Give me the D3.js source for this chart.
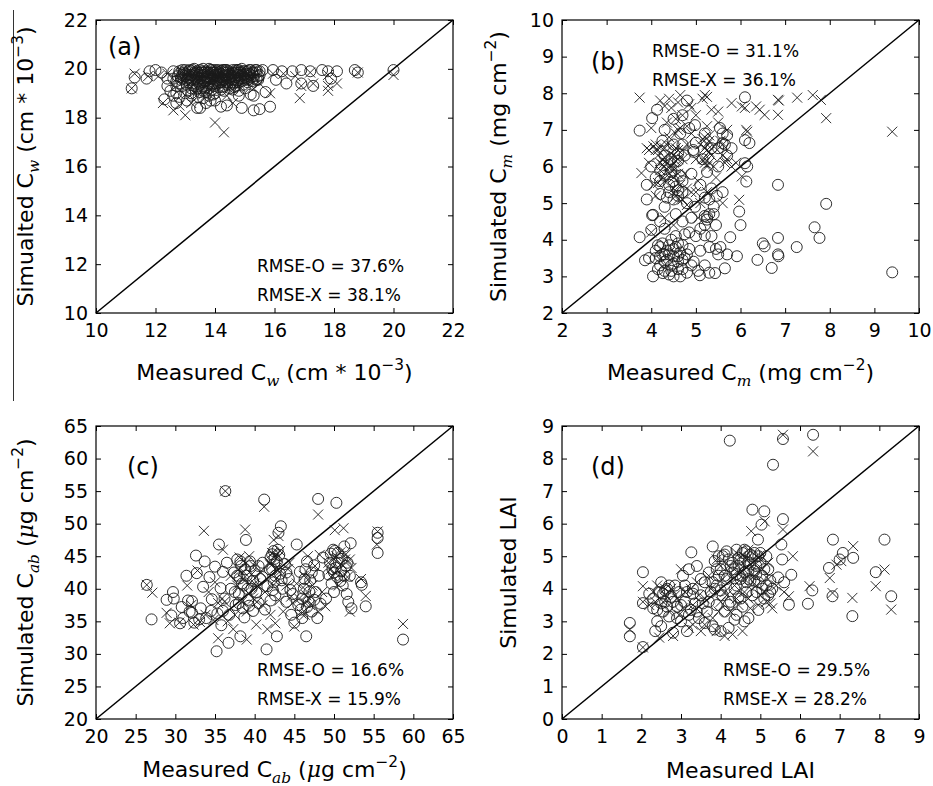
<!DOCTYPE html>
<html lang="en">
<head>
<meta charset="UTF-8">
<title>Measured vs simulated</title>
<script src="https://d3js.org/d3.v7.min.js"></script>
<style>
    body { margin: 0; background: #fff; }
    svg { font-family: "DejaVu Sans", sans-serif; }
    .mark { fill: none; stroke: #1a1a1a; stroke-width: 0.9px; }
</style>
</head>
<body>
<svg id="chart" width="933" height="786"></svg>
<script>
// ---- data ----
const aTicks = [10, 12, 14, 16, 18, 20, 22];
const bTicks = [2, 3, 4, 5, 6, 7, 8, 9, 10];
const cTicks = [20, 25, 30, 35, 40, 45, 50, 55, 60, 65];
const dTicks = [0, 1, 2, 3, 4, 5, 6, 7, 8, 9];

const aO = [[11.2,19.2],[11.3,19.65],[11.7,19.6],[11.8,19.9],[12.0,19.95],[12.2,19.85],[12.3,18.75],[12.4,19.3],[12.4,19.6],[12.5,19.1],[12.6,19.9],[12.6,18.9],[12.7,19.5],[12.7,19.0],[12.8,18.85],[12.8,19.8],[12.9,19.95],[12.9,19.3],[13.0,19.7],[13.0,19.0],[13.1,19.9],[13.1,19.45],[13.2,18.9],[13.2,19.75],[13.3,20.0],[13.3,19.55],[13.4,18.4],[13.4,19.2],[13.4,19.85],[13.5,19.6],[13.5,18.4],[13.5,19.95],[13.6,19.3],[13.6,19.75],[13.6,18.8],[13.7,19.9],[13.7,19.5],[13.7,19.05],[13.8,19.7],[13.8,18.9],[13.8,20.0],[13.9,19.35],[13.9,19.85],[14.0,19.6],[14.0,19.0],[14.0,19.95],[14.1,19.25],[14.1,19.75],[14.2,18.45],[14.2,19.9],[14.2,19.45],[14.3,19.1],[14.3,19.7],[14.4,19.95],[14.4,19.35],[14.4,18.5],[14.5,19.8],[14.5,19.55],[14.6,19.15],[14.6,19.95],[14.7,19.65],[14.7,19.3],[14.8,19.85],[14.8,18.9],[14.9,19.5],[14.9,20.0],[14.9,18.4],[15.0,19.75],[15.0,19.2],[15.1,19.9],[15.1,19.45],[15.2,19.65],[15.2,18.95],[15.3,18.9],[15.3,19.85],[15.3,18.3],[15.4,19.55],[15.5,18.35],[15.5,19.75],[15.6,19.95],[15.7,19.05],[15.85,18.45],[15.95,19.95],[16.05,19.55],[16.25,19.9],[16.4,19.4],[16.6,19.9],[16.9,19.95],[16.9,19.4],[17.2,19.9],[17.3,19.3],[17.6,19.95],[17.8,19.9],[17.9,19.6],[18.1,19.9],[18.7,19.95],[18.8,19.85],[20.0,19.95],[12.9,19.6],[13.2,19.2],[13.4,19.5],[13.6,20.0],[13.9,19.6],[14.1,19.95],[14.3,19.85],[14.6,19.4],[14.8,19.6],[15.0,19.9],[13.5,19.05],[13.8,19.2],[14.4,19.6],[14.0,19.4],[13.1,19.1],[12.8,19.4],[13.06,18.7],[12.7,18.6],[14.0,18.7],[13.7,18.6],
    [12.75,19.7],[12.85,19.55],[12.95,19.85],[13.05,19.35],[13.15,19.65],[13.25,19.95],[13.35,19.8],[13.45,19.4],[13.55,19.7],[13.65,19.5],[13.75,19.85],[13.85,19.95],[13.95,19.7],[14.05,19.5],[14.15,19.85],[14.25,19.6],[14.35,19.95],[14.45,19.75],[14.55,19.45],[14.65,19.8],[14.75,19.95],[14.85,19.7],[14.95,19.35],[15.05,19.6],[15.15,19.8],[15.25,19.5],[15.35,19.95],[15.45,19.7],[12.9,19.75],[13.0,19.95],[13.2,19.55],[13.4,19.9],[13.6,19.6],[13.8,19.85],[14.0,19.75],[14.2,19.65],[14.4,19.85],[14.6,19.7],[14.8,19.95],[15.0,19.55],[15.2,19.95],[15.4,19.85],[13.3,19.3],[13.5,19.35],[13.7,19.25],[13.9,19.15],[14.1,19.4],[14.3,19.3],[14.5,19.2],[14.7,19.45],[13.1,19.6],[13.3,19.7],[13.5,19.85],[13.7,19.65],[13.9,19.95],[14.1,19.55],[14.3,19.95],[14.5,19.65],[14.7,19.85],[14.9,19.75],[15.1,19.7],[13.2,19.0],[13.6,19.1],[14.2,19.15],[14.8,19.1],[12.6,19.6],[12.7,19.3],[15.3,19.6],[15.5,19.9],[13.95,18.95],[13.45,18.85],[13.85,18.7],
    [12.8,19.9],[12.85,19.65],[13.0,19.8],[13.05,19.55],[13.15,19.95],[13.25,19.4],[13.3,19.85],[13.35,19.6],[13.45,19.75],[13.55,19.9],[13.6,19.45],[13.65,19.85],[13.75,19.7],[13.8,19.4],[13.85,19.6],[13.95,19.85],[14.0,19.3],[14.05,19.9],[14.1,19.65],[14.15,19.45],[14.2,19.8],[14.25,19.95],[14.3,19.55],[14.35,19.75],[14.4,19.45],[14.45,19.9],[14.5,19.35],[14.55,19.7],[14.6,19.85],[14.65,19.55],[14.7,19.95],[14.75,19.75],[14.8,19.45],[14.85,19.85],[14.9,19.6],[14.95,19.9],[15.0,19.65],[15.05,19.8],[15.1,19.55],[15.15,19.95],[15.2,19.75],[15.25,19.85],[15.3,19.7],[15.4,19.95],[15.45,19.55],[13.1,19.75],[13.2,19.9],[13.4,19.65],[13.6,19.85],[13.8,19.6],[14.0,19.85],[14.2,19.55],[14.4,19.7],[14.6,19.55],[14.8,19.75],[13.35,19.15],[13.55,19.2],[13.75,19.4],[14.25,19.25],[14.65,19.25]];
const aX = [[11.2,19.2],[11.3,19.8],[11.75,19.7],[12.25,18.6],[12.6,18.3],[13.0,18.1],[12.8,18.5],[12.4,19.8],[13.2,18.6],[14.0,17.8],[14.3,17.4],[13.5,19.8],[13.8,19.5],[14.1,19.7],[14.5,19.9],[14.8,19.3],[13.3,19.4],[15.2,19.6],[13.6,18.95],[14.4,18.9],[15.85,19.0],[15.95,19.8],[16.3,19.8],[16.85,18.8],[16.9,19.3],[17.3,19.4],[17.8,19.1],[17.8,19.3],[17.8,19.75],[18.1,19.4],[18.8,19.85],[20.0,19.75],[12.9,19.9],[14.6,18.6],[15.5,19.4],[16.7,19.7],[17.2,19.85],[12.1,19.7],[13.1,19.85],[14.9,19.95],[15.3,19.2],[13.0,19.6],[13.4,19.7],[13.9,19.9],[14.2,19.6],[14.7,19.8],[15.0,19.5],[13.7,19.3],[14.4,19.4]];

const bO = [[3.74,6.98],[3.74,4.07],[3.86,3.44],[3.95,3.5],[4.0,4.27],[4.02,4.67],[4.04,3.0],[4.04,4.68],[4.1,3.7],[4.13,7.55],[4.02,7.32],[4.15,3.2],[4.2,3.55],[4.2,4.5],[4.25,3.9],[4.26,3.09],[4.3,3.4],[4.3,4.3],[4.35,3.7],[4.4,3.05],[4.4,3.6],[4.45,4.0],[4.5,3.0],[4.5,3.35],[4.5,3.75],[4.55,4.1],[4.6,3.2],[4.6,3.55],[4.65,3.0],[4.7,3.45],[4.7,3.85],[4.75,4.15],[4.8,3.6],[4.9,3.3],[4.95,3.4],[5.0,4.1],[5.05,3.15],[5.09,3.03],[5.1,3.7],[5.2,3.3],[5.2,4.12],[5.25,4.62],[5.3,3.1],[5.3,3.8],[5.35,4.1],[5.43,3.09],[5.45,3.75],[5.5,3.6],[5.55,3.8],[5.65,3.22],[5.7,3.6],[5.77,4.07],[5.92,3.55],[6.0,4.4],[5.97,4.77],[3.9,5.1],[4.1,5.7],[4.2,5.9],[4.2,5.25],[4.3,4.9],[4.3,6.3],[4.4,5.5],[4.45,5.85],[4.5,6.6],[4.5,5.1],[4.55,4.7],[4.6,6.15],[4.6,5.35],[4.65,6.9],[4.7,5.6],[4.7,4.5],[4.75,6.3],[4.8,5.0],[4.85,7.05],[4.9,5.8],[4.95,6.4],[4.98,4.9],[5.0,6.65],[5.1,5.5],[5.15,6.2],[5.2,4.4],[5.2,6.9],[5.25,5.85],[5.3,4.7],[5.35,6.5],[5.4,4.9],[5.47,5.2],[5.5,6.0],[5.54,7.05],[5.6,5.3],[5.6,6.64],[5.7,6.86],[5.7,6.3],[5.8,6.5],[6.1,6.09],[6.13,5.59],[6.2,6.64],[6.1,7.89],[6.1,6.72],[4.5,7.3],[4.3,7.0],[4.7,7.4],[4.8,7.8],[4.25,6.7],[4.0,6.0],[3.9,5.5],[4.94,6.45],[4.98,7.13],[6.84,5.5],[6.84,4.05],[6.84,3.6],[6.7,3.23],[6.5,3.9],[6.54,3.82],[6.38,3.45],[7.26,3.8],[7.66,4.34],[7.77,4.05],[7.92,4.98],[9.4,3.11],[6.85,3.55],
    [4.1,3.5],[4.15,3.85],[4.2,3.3],[4.25,3.6],[4.3,3.15],[4.35,3.45],[4.4,3.85],[4.45,3.3],[4.5,3.55],[4.55,3.8],[4.6,3.4],[4.65,3.65],[4.7,3.2],[4.75,3.5],[4.8,3.1],[4.85,3.75],[4.3,3.6],[4.2,3.8],[4.45,3.15],[4.6,3.9],[4.4,5.3],[4.5,5.6],[4.6,5.2],[4.65,5.75],[4.55,5.45],[4.7,5.3],[4.35,5.15],[4.2,5.6],[4.3,5.75],[4.45,6.2],[4.6,6.35],[4.7,6.6],[5.2,4.65],[5.25,4.55],[5.3,5.1],[5.4,4.7],[5.45,4.4],[5.35,5.4],[5.2,5.15],[5.1,4.3],[4.9,4.6],[4.85,4.2],[5.6,6.9],[5.5,6.5],[5.65,6.6],[6.15,6.0]];
const bX = [[3.74,7.88],[3.78,5.82],[3.9,6.5],[3.95,6.1],[4.0,7.05],[4.05,5.5],[4.1,6.6],[4.1,5.2],[4.15,6.3],[4.2,7.8],[4.2,5.9],[4.25,6.05],[4.3,6.5],[4.3,5.6],[4.35,7.2],[4.35,6.1],[4.4,5.8],[4.4,6.8],[4.45,6.0],[4.45,7.6],[4.5,6.3],[4.5,5.4],[4.55,6.9],[4.55,5.95],[4.6,7.0],[4.6,6.45],[4.6,5.1],[4.65,7.95],[4.65,5.5],[4.7,6.2],[4.7,7.4],[4.75,5.8],[4.8,6.6],[4.85,7.7],[4.9,5.3],[4.9,6.9],[5.0,7.4],[5.0,6.2],[5.05,5.6],[5.1,6.6],[5.15,7.85],[5.2,7.95],[5.2,6.1],[5.2,6.8],[5.25,5.3],[5.25,7.1],[5.3,6.4],[5.3,6.85],[5.35,7.55],[5.4,6.0],[5.45,5.7],[5.5,7.2],[5.55,6.7],[5.6,6.3],[5.65,6.1],[5.7,7.0],[5.8,7.73],[5.9,6.1],[5.97,5.09],[6.03,5.73],[6.03,7.64],[6.1,7.6],[6.13,7.0],[6.15,6.95],[6.35,7.64],[6.43,7.55],[6.54,7.41],[6.84,7.82],[6.84,7.41],[6.86,7.8],[7.27,7.88],[7.62,7.95],[7.8,7.82],[7.92,7.32],[9.4,6.95],[4.3,4.6],[4.5,4.4],[4.0,4.2],[5.6,5.0],[4.8,4.95],[5.05,4.6],[4.15,6.45],[4.25,6.2],[4.55,6.15],[4.45,6.55],[5.15,6.2],[5.25,6.6],[4.8,7.1],
    [4.1,6.45],[4.2,6.1],[4.3,6.0],[4.35,6.6],[4.4,6.3],[4.45,5.9],[4.5,6.1],[4.55,6.5],[4.6,5.8],[4.25,5.7],[4.15,5.55],[4.4,6.0],[4.5,5.7],[4.6,6.2],[4.7,6.45],[4.3,6.25],[4.2,6.55],[4.05,6.55],[3.95,6.45],[4.65,7.05],[4.55,7.3],[5.2,6.2],[5.25,6.45],[5.3,6.7],[5.3,6.1],[5.35,6.3],[5.2,6.5],[5.4,6.55],[5.25,6.0],[5.15,6.75],[4.9,7.6],[5.5,7.5],[4.4,7.85],[4.3,7.65],[4.6,7.75],[5.25,7.9],[5.6,6.6],[5.7,6.2],[5.8,6.0],[4.7,5.1],[4.8,5.4],[4.55,5.2],[5.0,5.3],[5.1,5.0]];

const cO = [[26.4,40.6],[27.0,35.3],[28.9,38.3],[29.5,35.9],[29.7,39.5],[30.6,34.7],[30.8,37.2],[31.4,42.0],[31.6,38.2],[31.8,36.5],[32.1,38.1],[32.1,36.3],[32.4,34.8],[32.6,45.1],[32.7,42.4],[33.2,37.0],[33.5,40.3],[33.7,44.2],[33.9,35.5],[34.3,41.8],[34.6,38.4],[35.0,43.4],[35.2,30.4],[35.3,36.2],[35.5,46.8],[35.7,40.1],[35.8,34.4],[36.0,42.6],[36.2,38.5],[36.3,55.0],[36.5,44.0],[36.7,31.7],[36.8,36.0],[37.0,40.0],[37.4,42.5],[37.6,37.5],[37.8,44.5],[38.0,39.2],[38.1,41.6],[38.2,32.7],[38.3,43.5],[38.5,37.0],[38.6,40.5],[38.7,35.6],[38.9,47.5],[39.0,42.0],[39.2,38.3],[39.4,44.2],[39.6,40.0],[39.8,36.6],[40.0,42.8],[40.2,39.5],[40.5,37.8],[40.7,41.5],[41.0,44.0],[41.2,53.7],[41.3,36.8],[41.5,30.7],[41.6,40.4],[41.9,43.0],[42.0,38.2],[42.2,45.3],[42.4,41.0],[42.5,44.6],[42.6,39.0],[42.8,32.7],[42.9,46.0],[43.0,48.6],[43.2,42.3],[43.3,49.6],[43.5,40.0],[43.8,43.8],[44.0,38.0],[44.3,41.5],[44.6,36.0],[44.8,39.2],[45.0,34.8],[45.3,46.8],[45.5,37.5],[45.7,42.6],[46.0,35.5],[46.2,40.0],[46.5,32.7],[46.6,44.2],[46.8,38.0],[47.0,41.3],[47.2,36.5],[47.5,43.6],[47.7,39.5],[47.9,35.5],[48.0,53.8],[48.1,42.0],[48.3,37.7],[48.6,44.8],[49.0,38.5],[49.3,42.2],[49.6,45.4],[49.8,43.0],[50.0,39.5],[50.1,45.8],[50.3,53.2],[50.4,41.8],[50.6,44.0],[50.9,42.7],[51.1,40.5],[51.3,46.5],[51.5,43.5],[51.6,39.2],[51.8,38.0],[52.0,42.0],[52.1,47.0],[52.2,37.0],[53.4,41.0],[53.5,40.6],[54.0,37.3],[55.5,48.6],[55.5,47.8],[55.5,45.5],[58.7,32.2],
    [37.8,42.0],[38.2,44.2],[38.4,40.8],[38.8,43.0],[39.1,40.0],[39.3,37.4],[39.5,43.5],[39.8,41.2],[38.0,37.8],[37.5,39.5],[42.0,44.8],[42.2,43.0],[42.4,45.8],[42.6,42.0],[42.8,44.2],[43.1,45.2],[43.4,41.3],[42.3,39.8],[46.0,38.5],[46.3,41.5],[46.6,37.2],[46.9,39.5],[47.2,42.5],[47.5,38.3],[46.4,43.0],[45.8,36.8],[49.5,44.0],[49.9,46.0],[50.2,43.2],[50.5,45.5],[50.8,41.2],[51.0,44.6],[51.3,42.0],[51.7,44.0],[50.0,42.5],[49.7,40.8],[44.0,42.5],[44.5,39.8],[40.5,43.5],[41.0,41.8],[36.0,36.6],[34.5,36.6],[33.0,35.3],[31.0,35.5],[29.8,38.5]];
const cX = [[26.4,40.6],[27.1,39.4],[28.9,36.3],[29.3,34.7],[30.5,34.8],[31.5,40.5],[32.0,37.5],[32.3,34.5],[32.8,42.8],[33.6,48.9],[33.8,36.0],[34.2,39.5],[35.0,41.0],[35.4,37.8],[35.4,32.4],[35.9,38.5],[36.3,55.0],[36.0,46.0],[36.6,35.0],[37.0,42.0],[37.3,33.8],[37.8,40.5],[38.1,44.8],[38.4,38.0],[38.6,42.6],[38.8,49.1],[39.0,32.2],[39.0,36.5],[39.3,45.0],[39.5,41.0],[39.8,38.5],[40.0,43.5],[40.2,34.5],[40.5,40.2],[40.8,42.5],[41.0,37.5],[41.2,52.6],[41.3,39.5],[41.6,33.8],[41.9,44.0],[42.0,36.0],[42.2,45.5],[42.4,47.5],[42.6,34.7],[42.7,41.5],[42.9,44.8],[43.0,48.1],[43.1,38.2],[43.3,42.8],[43.6,36.5],[44.0,40.5],[44.4,44.0],[44.8,37.8],[45.0,34.2],[45.3,40.8],[45.6,38.5],[45.9,36.2],[46.2,42.0],[46.5,39.0],[46.7,45.0],[47.0,37.5],[47.3,40.5],[47.6,43.5],[48.0,51.4],[48.0,36.5],[48.2,45.2],[48.5,39.5],[48.9,37.3],[49.3,44.0],[49.8,42.0],[50.1,49.0],[50.3,45.0],[50.6,40.5],[50.9,43.8],[51.2,49.3],[51.4,44.5],[51.7,41.8],[52.0,36.5],[52.2,43.2],[53.4,41.5],[54.0,38.9],[55.4,46.8],[55.5,48.8],[58.7,34.6],
    [38.0,43.0],[38.5,41.5],[38.9,44.0],[39.2,39.3],[39.6,42.2],[40.0,40.8],[40.3,38.0],[42.1,43.6],[42.5,45.0],[42.7,43.2],[43.2,45.8],[42.3,40.5],[46.1,40.2],[46.4,37.8],[46.8,41.5],[47.1,38.8],[46.3,36.0],[49.6,43.0],[50.0,44.6],[50.4,42.8],[50.8,45.6],[51.1,42.0],[51.5,45.3],[52.0,44.5],[37.5,36.0],[36.2,38.0],[34.8,35.2],[33.1,34.9],[44.2,43.0],[44.6,38.8]];

const dO = [[1.71,2.95],[1.71,2.54],[2.04,2.21],[2.04,4.51],[2.04,3.56],[2.2,3.85],[2.3,3.4],[2.35,2.7],[2.4,3.0],[2.45,3.9],[2.5,2.85],[2.5,4.2],[2.55,3.3],[2.6,3.6],[2.65,4.0],[2.7,3.15],[2.75,3.75],[2.8,2.65],[2.85,4.1],[2.9,3.45],[2.95,3.9],[3.0,3.0],[3.05,4.4],[3.1,3.6],[3.15,2.7],[3.2,4.6],[3.25,3.35],[3.26,5.12],[3.3,4.0],[3.35,3.55],[3.4,4.7],[3.45,3.1],[3.5,3.8],[3.6,4.2],[3.65,3.3],[3.7,4.5],[3.75,3.9],[3.8,5.3],[3.8,2.85],[3.85,4.85],[3.9,3.5],[3.9,4.1],[3.95,5.0],[4.0,2.7],[4.0,4.6],[4.05,3.8],[4.1,5.05],[4.1,3.3],[4.15,4.3],[4.2,2.8],[4.2,4.9],[4.25,3.6],[4.3,4.5],[4.35,4.0],[4.4,5.2],[4.4,3.2],[4.45,4.7],[4.5,3.7],[4.5,4.3],[4.55,5.1],[4.6,3.0],[4.6,4.5],[4.65,3.9],[4.7,4.8],[4.7,3.1],[4.75,4.25],[4.8,6.43],[4.8,5.0],[4.85,4.55],[4.9,3.9],[4.94,5.51],[4.95,4.2],[5.0,4.8],[5.03,5.97],[5.05,4.4],[5.1,6.38],[5.1,3.7],[5.15,4.1],[5.2,4.6],[5.25,3.9],[5.3,4.0],[5.32,7.81],[5.45,4.35],[5.53,5.36],[5.57,6.14],[5.55,4.9],[5.6,4.2],[5.72,3.51],[5.78,4.43],[4.23,8.55],[5.57,8.6],[6.33,8.73],[6.2,3.54],[6.31,3.95],[6.83,5.51],[6.73,4.64],[6.82,3.77],[7.0,4.9],[7.08,5.1],[7.34,4.95],[7.32,3.16],[8.13,5.51],[7.91,4.51],[8.3,3.77],
    [2.3,3.7],[2.5,3.55],[2.6,3.95],[2.7,4.1],[2.8,3.6],[2.9,3.1],[3.0,3.5],[3.1,4.1],[3.2,3.2],[3.3,3.85],[3.4,3.3],[3.5,4.3],[3.6,2.95],[3.7,3.6],[3.8,4.2],[3.85,2.75],[3.9,4.6],[4.0,3.95],[4.05,5.0],[4.1,4.4],[4.2,3.5],[4.3,4.8],[4.35,3.05],[4.4,4.1],[4.5,4.9],[4.55,3.45],[4.6,5.2],[4.65,4.2],[4.7,4.55],[4.75,5.05],[4.8,3.8],[4.9,4.7],[5.0,5.1],[5.05,4.0],[5.1,4.6],[5.15,5.0],[5.2,3.8],[5.25,4.25],[4.95,3.35],[3.15,3.9],[2.4,3.35],[3.55,3.55],[4.15,5.15],[4.45,3.75],
    [4.35,4.6],[4.45,4.95],[4.55,4.4],[4.6,4.85],[4.65,5.15],[4.7,4.3],[4.75,4.75],[4.85,5.1],[4.85,4.25],[4.9,4.45],[4.95,5.0],[4.4,4.45],[4.25,4.7],[3.95,4.4],[3.85,4.0],[2.55,3.85],[2.65,3.45]];
const dX = [[1.71,2.75],[2.04,4.08],[2.04,3.6],[2.04,2.2],[2.2,3.5],[2.3,3.9],[2.4,4.1],[2.45,2.5],[2.55,3.6],[2.6,4.0],[2.7,3.3],[2.8,2.55],[2.85,3.8],[2.95,3.2],[3.0,4.6],[3.1,3.9],[3.2,2.8],[3.3,3.5],[3.4,4.2],[3.5,2.7],[3.6,3.7],[3.7,4.4],[3.8,3.1],[3.9,2.7],[3.9,4.9],[4.0,3.6],[4.05,4.3],[4.1,2.55],[4.15,3.8],[4.2,4.7],[4.25,3.3],[4.3,2.6],[4.35,4.1],[4.4,5.1],[4.45,3.5],[4.5,4.6],[4.55,2.7],[4.6,3.9],[4.65,4.9],[4.7,5.2],[4.75,3.4],[4.77,5.77],[4.85,4.4],[4.9,5.0],[5.0,3.8],[5.05,4.6],[5.11,6.07],[5.15,3.6],[5.2,4.3],[5.3,3.4],[5.4,4.1],[5.57,5.82],[5.57,8.73],[5.6,3.9],[5.72,3.77],[5.82,5.0],[6.24,4.08],[6.33,8.22],[6.75,4.33],[6.82,3.87],[6.92,4.74],[7.04,4.85],[7.34,5.31],[7.32,3.72],[7.91,4.08],[8.13,4.59],[8.3,3.36],
    [2.35,3.6],[2.6,3.8],[2.75,4.0],[2.9,3.7],[3.05,3.4],[3.25,4.0],[3.45,3.8],[3.55,3.2],[3.75,4.0],[3.95,3.3],[4.0,4.7],[4.1,3.9],[4.3,4.4],[4.4,3.7],[4.5,5.0],[4.6,4.3],[4.7,3.7],[4.8,4.7],[4.9,4.1],[5.0,4.9],[5.1,3.9],[5.2,4.8],[5.25,3.55],[4.95,3.5],[3.6,2.9],[3.3,2.9]];

const rmseA = ["RMSE-O = 37.6%", "RMSE-X = 38.1%"];
const rmseB = ["RMSE-O = 31.1%", "RMSE-X = 36.1%"];
const rmseC = ["RMSE-O = 16.6%", "RMSE-X = 15.9%"];
const rmseD = ["RMSE-O = 29.5%", "RMSE-X = 28.2%"];

// label pieces: [text, kind] kind = "" | "sub" | "sup" | "it"
const xLabA = [["Measured C",""],["w","sub"],[" (cm * 10",""],["\u22123","sup"],[")",""]];
const yLabA = [["Simualted C",""],["w","sub"],[" (cm * 10",""],["\u22123","sup"],[")",""]];
const xLabB = [["Measured C",""],["m","sub"],[" (mg cm",""],["\u22122","sup"],[")",""]];
const yLabB = [["Simulated C",""],["m","sub"],[" (mg cm",""],["\u22122","sup"],[")",""]];
const xLabC = [["Measured C",""],["ab","sub"],[" (",""],["\u03bc","it"],["g cm",""],["\u22122","sup"],[")",""]];
const yLabC = [["Simulated C",""],["ab","sub"],[" (",""],["\u03bc","it"],["g cm",""],["\u22122","sup"],[")",""]];
const xLabD = [["Measured LAI",""]];
const yLabD = [["Simulated LAI",""]];

// ---- layout ----
const W = 357, H = 293;
const panels = [
    {left: 96,  top: 20,  dom: [10, 22], ticks: aTicks, O: aO, X: aX, tag: "(a)", tagPos: [12, 35], rmse: rmseA, rmsePos: [161, 252], xl: xLabA, yl: yLabA, xlY: 360, ylX: -63},
    {left: 562, top: 20,  dom: [2, 10],  ticks: bTicks, O: bO, X: bX, tag: "(b)", tagPos: [29, 50], rmse: rmseB, rmsePos: [90, 37],   xl: xLabB, yl: yLabB, xlY: 360, ylX: -56},
    {left: 96,  top: 426, dom: [20, 65], ticks: cTicks, O: cO, X: cX, tag: "(c)", tagPos: [31, 49], rmse: rmseC, rmsePos: [161, 250], xl: xLabC, yl: yLabC, xlY: 351, ylX: -63},
    {left: 562, top: 426, dom: [0, 9],   ticks: dTicks, O: dO, X: dX, tag: "(d)", tagPos: [29, 49], rmse: rmseD, rmsePos: [161, 250], xl: xLabD, yl: yLabD, xlY: 352, ylX: -46}
];

const svg = d3.select("#chart");

// thin rule at the far left of the page
svg.append("line").attr("x1", 13.5).attr("x2", 13.5).attr("y1", 10).attr("y2", 401)
    .attr("stroke", "#333").attr("stroke-width", 1);

function richText(text, parts, size) {
    let shift = 0;
    parts.forEach(([t, kind]) => {
        const small = kind === "sub" || kind === "sup";
        const target = kind === "sub" ? size * 0.28 : kind === "sup" ? -size * 0.45 : 0;
        const ts = text.append("tspan")
            .attr("dy", target - shift)
            .attr("font-size", small ? size * 0.7 : size)
            .text(t);
        if (kind === "sub" || kind === "it") {
            ts.attr("font-family", "DejaVu Serif, serif").attr("font-style", "italic");
        }
        shift = target;
    });
}

const xMark = "M-5,-5L5,5M-5,5L5,-5";

panels.forEach(p => {
    const g = svg.append("g").attr("transform", `translate(${p.left},${p.top})`);
    const x = d3.scaleLinear().domain(p.dom).range([0, W]);
    const y = d3.scaleLinear().domain(p.dom).range([H, 0]);

    // axes with inward ticks on all four sides
    const styleAxis = sel => {
        sel.select(".domain").remove();
        sel.selectAll("line").attr("stroke", "#000").attr("stroke-width", 1);
        sel.selectAll("text").attr("fill", "#000");
        sel.attr("font-family", "DejaVu Sans, sans-serif").attr("font-size", 19);
    };
    g.append("g").attr("transform", `translate(0,${H})`)
        .call(d3.axisBottom(x).tickValues(p.ticks).tickSizeInner(-5).tickSizeOuter(0).tickPadding(11))
        .call(styleAxis);
    g.append("g")
        .call(d3.axisLeft(y).tickValues(p.ticks).tickSizeInner(-5).tickSizeOuter(0).tickPadding(8))
        .call(styleAxis);
    g.append("g")
        .call(d3.axisTop(x).tickValues(p.ticks).tickSizeInner(-5).tickSizeOuter(0).tickFormat(""))
        .call(styleAxis);
    g.append("g").attr("transform", `translate(${W},0)`)
        .call(d3.axisRight(y).tickValues(p.ticks).tickSizeInner(-5).tickSizeOuter(0).tickFormat(""))
        .call(styleAxis);

    // 1:1 line
    g.append("line")
        .attr("x1", x(p.dom[0])).attr("y1", y(p.dom[0]))
        .attr("x2", x(p.dom[1])).attr("y2", y(p.dom[1]))
        .attr("stroke", "#000").attr("stroke-width", 1.5);

    // markers
    g.selectAll("circle.o").data(p.O).join("circle")
        .attr("class", "mark o")
        .attr("cx", d => x(d[0])).attr("cy", d => y(d[1])).attr("r", 5.5);
    g.selectAll("path.x").data(p.X).join("path")
        .attr("class", "mark x")
        .attr("transform", d => `translate(${x(d[0])},${y(d[1])})`)
        .attr("d", xMark);

    // frame
    g.append("rect").attr("width", W).attr("height", H)
        .attr("fill", "none").attr("stroke", "#000").attr("stroke-width", 1.2);

    // panel tag and RMSE text
    g.append("text").attr("x", p.tagPos[0]).attr("y", p.tagPos[1])
        .attr("font-size", 24).text(p.tag);
    p.rmse.forEach((t, i) => {
        g.append("text").attr("x", p.rmsePos[0]).attr("y", p.rmsePos[1] + i * 29)
            .attr("font-size", 17).text(t);
    });

    // axis titles
    const xt = g.append("text").attr("x", W / 2).attr("y", p.xlY)
        .attr("text-anchor", "middle").attr("font-size", 22);
    richText(xt, p.xl, 22);
    const yt = g.append("text")
        .attr("transform", `translate(${p.ylX},${H / 2}) rotate(-90)`)
        .attr("text-anchor", "middle").attr("font-size", 22);
    richText(yt, p.yl, 22);
});
</script>
</body>
</html>
